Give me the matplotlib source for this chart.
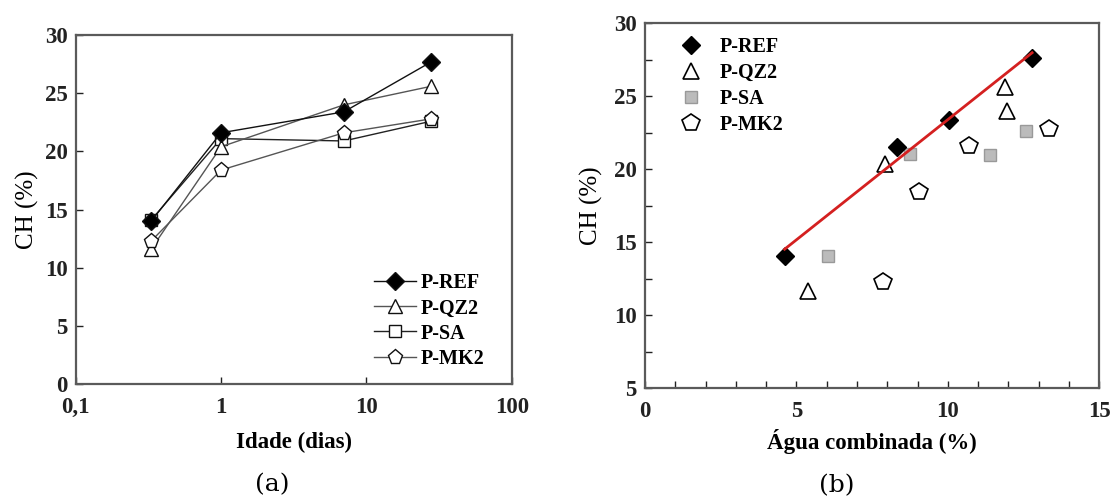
import numpy as np
import matplotlib
matplotlib.use("Agg")
import matplotlib.pyplot as plt
from matplotlib.ticker import FixedLocator, FixedFormatter, MultipleLocator

plt.rcParams['font.family'] = ['Liberation Serif', 'DejaVu Serif']

# Age (days) and CH content (%) per paste
idade = [0.33, 1, 7, 28]
ch_ref = [14.0, 21.6, 23.4, 27.7]
ch_qz2 = [11.6, 20.4, 24.0, 25.6]
ch_sa = [14.1, 21.1, 20.9, 22.6]
ch_mk2 = [12.3, 18.4, 21.6, 22.8]

# Combined water (%) vs CH (%)
agua_ref = [4.61, 8.32, 10.05, 12.78]
chb_ref = [14.07, 21.52, 23.41, 27.63]
agua_qz2 = [5.38, 7.91, 11.90, 11.94]
chb_qz2 = [11.68, 20.38, 25.62, 23.96]
agua_sa = [6.03, 8.74, 11.38, 12.57]
chb_sa = [14.09, 21.07, 20.95, 22.62]
agua_mk2 = [7.86, 9.05, 10.71, 13.34]
chb_mk2 = [12.29, 18.45, 21.59, 22.78]

labels = ['P-REF', 'P-QZ2', 'P-SA', 'P-MK2']
x_ticks_a = [0.1, 1, 10, 100]
x_ticklabels_a = ['0,1', '1', '10', '100']

fig = plt.figure(figsize=(11.12, 5.0), dpi=100)
spine_col = '#5a5a5a'
TICK_FS = 16.5
LABEL_FS = 16.5
legend_prop = {'size': 14.5, 'weight': 'bold'}


def style_axes(ax):
    for s in ax.spines.values():
        s.set_color(spine_col)
        s.set_linewidth(1.6)
    ax.tick_params(direction='in', which='both', top=False, right=False,
                   colors='#222222', labelsize=TICK_FS, length=5, width=1)
    ax.tick_params(axis='x', which='both', pad=9)
    ax.tick_params(axis='y', which='both', pad=6)
    for lab in ax.get_xticklabels() + ax.get_yticklabels():
        lab.set_fontweight('bold')


# ---- panel (a): CH vs age ----
axa = fig.add_axes([0.0681, 0.2314, 0.3921, 0.6986])
edge = '#111111'
axa.plot(idade, ch_ref, '-D', color='#111111', lw=1.0, markersize=9,
         markerfacecolor='black', markeredgecolor=edge, label=labels[0], zorder=5)
axa.plot(idade, ch_qz2, '-^', color='#555555', lw=1.0, markersize=10,
         markerfacecolor='white', markeredgecolor=edge, label=labels[1], zorder=4)
axa.plot(idade, ch_sa, '-s', color='#222222', lw=1.0, markersize=9,
         markerfacecolor='white', markeredgecolor=edge, label=labels[2], zorder=3)
axa.plot(idade, ch_mk2, '-p', color='#555555', lw=1.0, markersize=11,
         markerfacecolor='white', markeredgecolor=edge, label=labels[3], zorder=6)
axa.set_xscale('log')
axa.set_xlim(0.1, 100)
axa.set_ylim(0, 30)
axa.xaxis.set_major_locator(FixedLocator(x_ticks_a))
axa.xaxis.set_major_formatter(FixedFormatter(x_ticklabels_a))
axa.xaxis.set_minor_locator(FixedLocator([]))
axa.yaxis.set_major_locator(MultipleLocator(5))
axa.set_xlabel('Idade (dias)', fontsize=LABEL_FS, fontweight='bold', labelpad=10)
axa.set_ylabel('CH (%)', fontsize=18, labelpad=4)
style_axes(axa)
axa.legend(loc='lower left', frameon=False, prop=legend_prop,
           handlelength=2.1, handletextpad=0.2, labelspacing=0.25,
           borderpad=0, borderaxespad=0, bbox_to_anchor=(0.684, 0.045))

# ---- panel (b): CH vs combined water ----
axb = fig.add_axes([0.58, 0.2234, 0.4086, 0.73])
axb.plot(agua_ref, chb_ref, 'D', color='black', markersize=9, label=labels[0], zorder=5)
axb.plot(agua_qz2, chb_qz2, '^', markerfacecolor='white', markeredgecolor='black',
         markersize=11, markeredgewidth=1.2, label=labels[1], zorder=4)
axb.plot(agua_sa, chb_sa, 's', markerfacecolor='#bbbbbb', markeredgecolor='#999999',
         markersize=9, label=labels[2], zorder=3)
axb.plot(agua_mk2, chb_mk2, 'p', markerfacecolor='white', markeredgecolor='black',
         markersize=13, markeredgewidth=1.2, label=labels[3], zorder=4)
coef = np.polyfit(agua_ref, chb_ref, 1)
xfit = np.array([min(agua_ref), max(agua_ref)])
axb.plot(xfit, np.polyval(coef, xfit), '-', color='#d42020', lw=2.0, zorder=6)
axb.set_xlim(0, 15)
axb.set_ylim(5, 30)
axb.xaxis.set_major_locator(MultipleLocator(5))
axb.xaxis.set_minor_locator(MultipleLocator(1))
axb.yaxis.set_major_locator(MultipleLocator(5))
axb.yaxis.set_minor_locator(MultipleLocator(2.5))
axb.set_xlabel('Água combinada (%)', fontsize=LABEL_FS, fontweight='bold', labelpad=5)
axb.set_ylabel('CH (%)', fontsize=18, labelpad=8)
style_axes(axb)
axb.legend(loc='upper left', frameon=False, prop=legend_prop,
           handlelength=2.0, handletextpad=0.4, labelspacing=0.3,
           borderpad=0, borderaxespad=0, bbox_to_anchor=(0.058, 0.962))

fig.text(272 / 1112, 1 - 485 / 500, '(a)', fontsize=18, ha='center', va='center',
         family=['DejaVu Serif'])
fig.text(837 / 1112, 1 - 486 / 500, '(b)', fontsize=18, ha='center', va='center',
         family=['DejaVu Serif'])

fig.savefig('out.png', dpi=100)
